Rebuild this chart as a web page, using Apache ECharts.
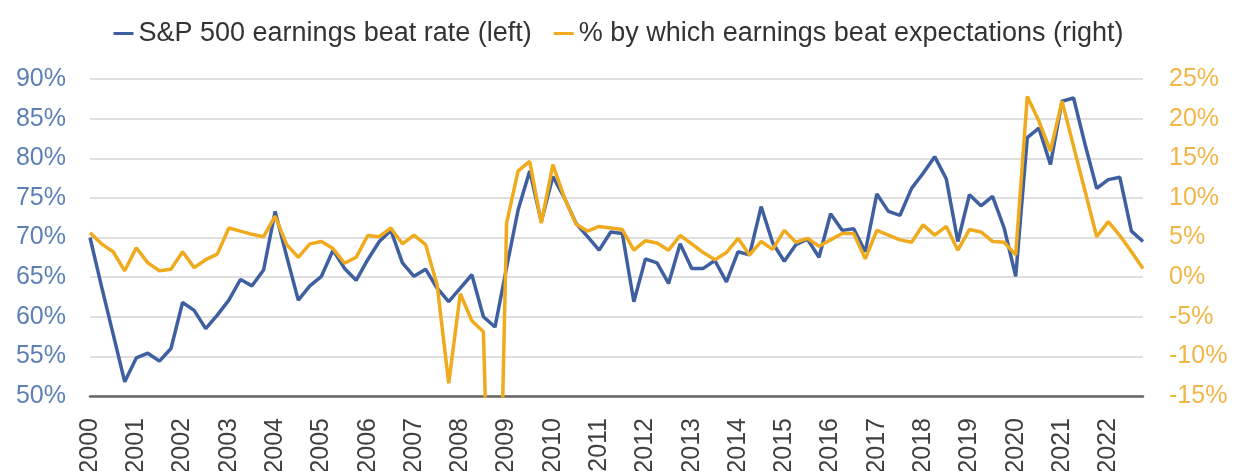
<!DOCTYPE html>
<html>
<head>
<meta charset="utf-8">
<title>S&amp;P 500 earnings beat</title>
<script src="https://cdn.jsdelivr.net/npm/echarts@6/dist/echarts.min.js"></script>
<style>
  html, body { margin: 0; padding: 0; background: #fff; }
  #chart { width: 1237px; height: 471px; }
</style>
</head>
<body>
<div id="chart"></div>
<script>
// quarterly, 2000 Q1 .. 2022 Q4
const years = ['2000', '2001', '2002', '2003', '2004', '2005', '2006', '2007', '2008', '2009', '2010', '2011',
    '2012', '2013', '2014', '2015', '2016', '2017', '2018', '2019', '2020', '2021', '2022'];
const quarters = ['Q1', 'Q2', 'Q3', 'Q4'];

// S&P 500 earnings beat rate, % (left axis)
const beatRate = [
    70.0, 63.8, 57.8, 51.8, 54.8, 55.4, 54.4, 56.0,
    61.8, 60.8, 58.5, 60.2, 62.1, 64.7, 63.9, 65.9,
    73.3, 67.6, 62.1, 63.9, 65.1, 68.4, 66.1, 64.6,
    67.2, 69.5, 70.9, 66.8, 65.1, 66.0, 63.6, 61.9,
    63.6, 65.3, 60.0, 58.7, 66.2, 73.5, 78.4, 72.0,
    77.7, 75.0, 71.8, 70.1, 68.4, 70.7, 70.5, 61.9,
    67.3, 66.8, 64.2, 69.2, 66.1, 66.1, 67.1, 64.4,
    68.2, 67.8, 73.9, 69.3, 67.0, 69.1, 69.8, 67.5,
    73.0, 70.9, 71.1, 68.2, 75.5, 73.3, 72.8, 76.2,
    78.1, 80.2, 77.4, 69.5, 75.4, 74.0, 75.2, 71.2,
    65.1, 82.6, 83.8, 79.2, 87.2, 87.6, 81.7, 76.2,
    77.3, 77.6, 70.8, 69.5
];

// % by which earnings beat expectations (right axis)
const beatSize = [
    5.6, 4.2, 3.2, 0.8, 3.7, 1.8, 0.8, 1.0,
    3.2, 1.2, 2.2, 2.9, 6.2, 5.8, 5.4, 5.1,
    7.7, 4.1, 2.5, 4.2, 4.5, 3.6, 1.75, 2.5,
    5.25, 5.1, 6.2, 4.2, 5.3, 4.1, -1.0, -13.4,
    -2.1, -5.5, -6.9, -60, 6.8, 13.4, 14.6, 6.8,
    14.2, 10.0, 6.7, 5.8, 6.4, 6.2, 6.0, 3.4,
    4.6, 4.3, 3.4, 5.25, 4.2, 3.1, 2.2, 3.1,
    4.9, 2.8, 4.5, 3.5, 5.9, 4.4, 4.9, 3.9,
    4.7, 5.5, 5.5, 2.3, 5.9, 5.3, 4.7, 4.4,
    6.6, 5.3, 6.4, 3.4, 6.0, 5.7, 4.5, 4.4,
    2.8, 22.8, 19.7, 15.9, 22.2, 16.5, 10.8, 5.1,
    7.0, 5.25, 3.2, 1.1
];

const categories = [];
years.forEach(y => quarters.forEach(q => categories.push(y + ' ' + q)));

const chart = echarts.init(document.getElementById('chart'));

const font = 'Liberation Sans, Arial, sans-serif';

const option = {
    backgroundColor: '#ffffff',
    animation: false,
    textStyle: { fontFamily: font },
    legend: {
        top: 15,
        left: 'center',
        itemGap: 22,
        itemWidth: 20,
        itemHeight: 3,
        icon: 'rect',
        textStyle: { fontSize: 27, color: '#333333', fontFamily: font },
        data: ['S&P 500 earnings beat rate (left)', '% by which earnings beat expectations (right)']
    },
    grid: {
        left: 90,
        right: 94,
        top: 79,
        bottom: 75,
        outerBoundsMode: 'none'
    },
    xAxis: {
        type: 'category',
        data: categories,
        boundaryGap: false,
        axisLine: { onZero: false, lineStyle: { color: '#666666', width: 2.5 } },
        axisTick: { show: false },
        axisLabel: {
            interval: 3,
            rotate: 90,
            margin: 22,
            fontSize: 25,
            color: '#404040',
            formatter: v => v.slice(0, 4)
        },
        splitLine: { show: false }
    },
    yAxis: [
        {
            type: 'value',
            min: 50,
            max: 90,
            interval: 5,
            position: 'left',
            axisLine: { show: false },
            axisTick: { show: false },
            axisLabel: { formatter: '{value}%', fontSize: 25, color: '#5b7fb6', margin: 24 },
            splitLine: { lineStyle: { color: '#d4d4d4', width: 1.5 } }
        },
        {
            type: 'value',
            min: -15,
            max: 25,
            interval: 5,
            position: 'right',
            axisLine: { show: false },
            axisTick: { show: false },
            axisLabel: { formatter: '{value}%', fontSize: 25, color: '#f2b646', margin: 26 },
            splitLine: { show: false }
        }
    ],
    series: [
        {
            name: 'S&P 500 earnings beat rate (left)',
            type: 'line',
            yAxisIndex: 0,
            data: beatRate,
            showSymbol: false,
            color: '#3f60a0',
            lineStyle: { width: 3.5, color: '#3f60a0' }
        },
        {
            name: '% by which earnings beat expectations (right)',
            type: 'line',
            yAxisIndex: 1,
            data: beatSize,
            showSymbol: false,
            clip: true,
            color: '#f0aa1e',
            lineStyle: { width: 3.5, color: '#f0aa1e' }
        }
    ]
};

chart.setOption(option);
</script>
</body>
</html>
